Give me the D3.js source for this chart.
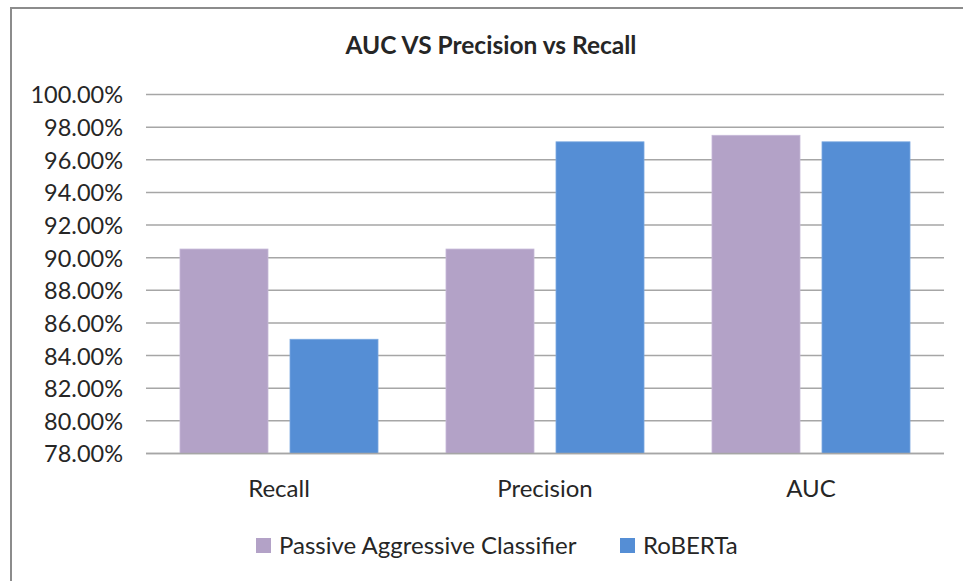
<!DOCTYPE html>
<html>
<head>
<meta charset="utf-8">
<script src="https://cdn.jsdelivr.net/npm/d3@7"></script>
<style>
  body { margin: 0; background: #fff; }
  svg text { font-family: Lato, "Open Sans", sans-serif; fill: #262626; }
</style>
</head>
<body>
<div id="chart"></div>
<script>
// chart data
var categories = ["Recall", "Precision", "AUC"];
var seriesNames = ["Passive Aggressive Classifier", "RoBERTa"];
var passiveAggressive = [0.9053, 0.9053, 0.975];
var roberta = [0.850, 0.971, 0.971];
var yTicks = [0.78, 0.80, 0.82, 0.84, 0.86, 0.88, 0.90, 0.92, 0.94, 0.96, 0.98, 1.00];
var colors = ["#B3A2C7", "#558ED5"];

var width = 963, height = 581;
var margin = {top: 94.5, right: 19, bottom: 127.5, left: 146};

var svg = d3.select("#chart").append("svg")
    .attr("width", width)
    .attr("height", height);

// outer frame (right and bottom run off the picture)
svg.append("rect")
    .attr("x", 11).attr("y", 8)
    .attr("width", width + 20).attr("height", height + 20)
    .attr("fill", "none")
    .attr("stroke", "#8c8c8c")
    .attr("stroke-width", 2);

svg.append("text")
    .attr("x", 491).attr("y", 54)
    .attr("text-anchor", "middle")
    .style("font-size", "24.5px")
    .style("font-weight", "bold")
    .text("AUC VS Precision vs Recall");

var x0 = d3.scaleBand().domain(categories)
    .range([margin.left, width - margin.right])
    .paddingInner(0).paddingOuter(0);

var x1 = d3.scaleBand().domain(seriesNames)
    .range([0, x0.bandwidth()])
    .paddingInner(0.2).paddingOuter(0.309);

var y = d3.scaleLinear().domain([0.78, 1.00])
    .range([height - margin.bottom, margin.top]);

// gridlines
svg.append("g").selectAll("line").data(yTicks).enter().append("line")
    .attr("x1", margin.left).attr("x2", width - margin.right)
    .attr("y1", function(d){ return y(d); })
    .attr("y2", function(d){ return y(d); })
    .attr("stroke", "#a6a6a6")
    .attr("stroke-width", 1.5);

// y axis labels
var yAxis = d3.axisLeft(y).tickValues(yTicks).tickSize(0).tickPadding(0)
    .tickFormat(d3.format(".2%"));
var yAxisGroup = svg.append("g")
    .attr("transform", "translate(123,0)")
    .call(yAxis);
yAxisGroup.select(".domain").remove();
yAxisGroup.selectAll("text")
    .attr("dy", "0.36em")
    .style("font-size", "23.5px")
    .style("font-family", "Lato, sans-serif");

// bars
var rows = categories.map(function(c, i){
    return {cat: c, vals: [passiveAggressive[i], roberta[i]]};
});

var groups = svg.append("g").selectAll("g").data(rows).enter().append("g")
    .attr("transform", function(d){ return "translate(" + x0(d.cat) + ",0)"; });

groups.selectAll("rect")
    .data(function(d){ return d.vals.map(function(v, j){ return {name: seriesNames[j], v: v, j: j}; }); })
    .enter().append("rect")
    .attr("x", function(d){ return x1(d.name); })
    .attr("width", x1.bandwidth())
    .attr("y", function(d){ return y(d.v); })
    .attr("height", function(d){ return y(0.78) - y(d.v); })
    .attr("fill", function(d){ return colors[d.j]; })
    .attr("stroke", function(d){ return d.j === 0 ? "#c6b9d8" : "#7aa8e0"; })
    .attr("stroke-width", 0.8);

// base line redrawn over the bars
svg.append("line")
    .attr("x1", margin.left).attr("x2", width - margin.right)
    .attr("y1", y(0.78)).attr("y2", y(0.78))
    .attr("stroke", "#a6a6a6").attr("stroke-width", 1.5);

// x axis labels
var xAxis = d3.axisBottom(x0).tickSize(0).tickPadding(0);
var xAxisGroup = svg.append("g")
    .attr("transform", "translate(0," + (y(0.78) + 43) + ")")
    .call(xAxis);
xAxisGroup.select(".domain").remove();
xAxisGroup.selectAll("text")
    .attr("dy", 0)
    .style("font-size", "24px")
    .style("font-family", "Lato, sans-serif");

// legend
var legendX = [256, 620];
var legend = svg.append("g").selectAll("g").data(seriesNames).enter().append("g")
    .attr("transform", function(d, i){ return "translate(" + legendX[i] + ",538)"; });
legend.append("rect")
    .attr("width", 15).attr("height", 15)
    .attr("fill", function(d, i){ return colors[i]; });
legend.append("text")
    .attr("x", 23).attr("y", 16)
    .style("font-size", "24px")
    .text(function(d){ return d; });
</script>
</body>
</html>
